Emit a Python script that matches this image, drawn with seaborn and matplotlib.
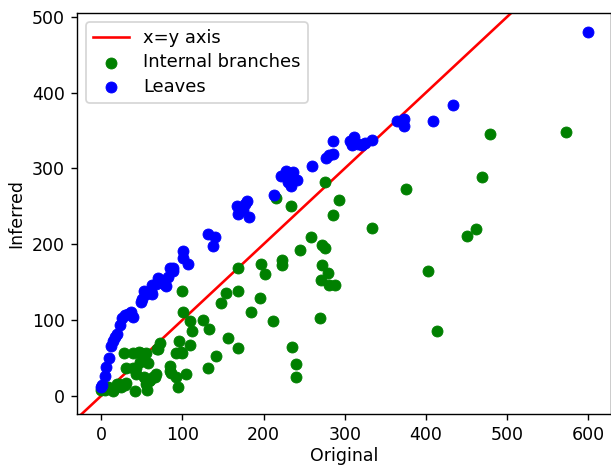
import matplotlib
matplotlib.use("Agg")
import matplotlib.pyplot as plt
import seaborn as sns
import numpy as np

leaves_x = [0, 1, 4, 6, 9, 12, 14, 17, 19, 23, 26, 29, 33, 37, 39, 49, 50, 52, 55, 61, 62, 63, 67, 70,
            72, 77, 80, 82, 84, 88, 88, 101, 101, 107, 131, 140, 138, 167, 168, 172, 175, 177, 180, 182,
            213, 221, 227, 230, 232, 234, 236, 241, 260, 277, 281, 286, 285, 306, 309, 311, 316, 321,
            325, 334, 364, 373, 373, 409, 433, 600]
leaves_y = [12, 14, 26, 38, 50, 65, 72, 78, 82, 93, 103, 107, 108, 111, 104, 124, 128, 138, 134, 138,
            134, 146, 147, 155, 152, 147, 145, 157, 168, 164, 168, 191, 182, 174, 214, 210, 198, 250,
            240, 246, 245, 253, 257, 236, 265, 290, 297, 282, 292, 277, 295, 284, 303, 314, 318, 319,
            336, 336, 331, 341, 332, 331, 333, 338, 362, 365, 356, 362, 384, 480]

internal_x = [0, 4, 8, 10, 14, 17, 19, 22, 24, 29, 31, 31, 28, 39, 39, 41, 43, 43, 47, 49, 48, 53, 55,
              53, 57, 53, 55, 55, 56, 59, 60, 64, 66, 67, 68, 70, 72, 84, 84, 86, 92, 94, 96, 92, 98,
              100, 100, 101, 104, 109, 109, 112, 125, 132, 133, 141, 148, 153, 156, 168, 168, 169, 185,
              196, 197, 202, 211, 215, 222, 223, 234, 235, 240, 240, 245, 258, 270, 271, 272, 272, 275,
              276, 279, 281, 288, 286, 293, 334, 376, 403, 414, 451, 462, 469, 479, 572]
internal_y = [8, 8, 11, 10, 6, 10, 16, 15, 12, 14, 17, 36, 56, 56, 36, 6, 28, 36, 58, 56, 45, 54, 56,
              47, 43, 25, 15, 21, 8, 19, 21, 25, 25, 28, 61, 61, 70, 39, 32, 30, 25, 12, 72, 56, 57,
              56, 138, 111, 28, 98, 67, 85, 100, 36, 88, 53, 122, 136, 76, 63, 138, 168, 111,
              129, 174, 160, 98, 261, 172, 179, 250, 64, 42, 25, 192, 210, 103, 152, 172, 199, 195,
              282, 162, 146, 146, 238, 258, 221, 273, 164, 85, 211, 220, 289, 345, 348]

diag = [-40, 640]

plt.rcParams['font.family'] = ['DejaVu Sans']
fig = plt.figure(figsize=(611 / 125, 465 / 125), dpi=125)
ax = fig.add_axes([0.126, 0.110, 0.874, 0.862])

sns.lineplot(x=diag, y=diag, color='red', linewidth=1.5, label='x=y axis', ax=ax)
sns.scatterplot(x=internal_x, y=internal_y, color='green', edgecolor='green', linewidth=0.5,
                s=40, label='Internal branches', ax=ax, zorder=3)
sns.scatterplot(x=leaves_x, y=leaves_y, color='blue', edgecolor='blue', linewidth=0.5,
                s=40, label='Leaves', ax=ax, zorder=3)

ax.set_xlim(-30, 628)
ax.set_ylim(-24, 505)
ax.set_xticks([0, 100, 200, 300, 400, 500, 600])
ax.set_yticks([0, 100, 200, 300, 400, 500])
ax.set_xlabel('Original', labelpad=2)
ax.set_ylabel('Inferred')
ax.legend(loc='upper left', fontsize=10.3, labelspacing=0.35)

fig.savefig('out.png', dpi=125)
